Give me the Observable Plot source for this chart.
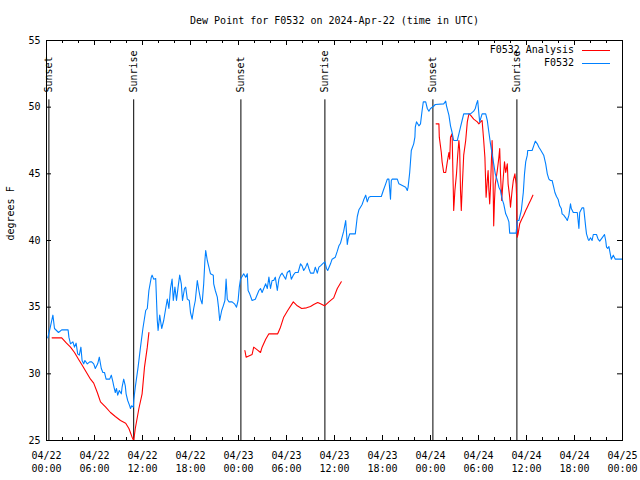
<!DOCTYPE html>
<html><head><meta charset="utf-8">
<script src="https://cdn.jsdelivr.net/npm/d3@7"></script>
<script src="https://cdn.jsdelivr.net/npm/@observablehq/plot@0.6"></script>
<style>
html,body{margin:0;padding:0;background:#fff;}
#wrap{position:relative;width:640px;height:480px;font-family:"DejaVu Sans Mono",monospace;font-size:10px;color:#000;}
#legend{position:absolute;left:0;top:0;width:640px;height:80px;pointer-events:none;}
.lgtext{position:absolute;right:66px;line-height:12px;white-space:pre;}
.lgline{position:absolute;left:582px;width:28px;height:0;border-top:1px solid;}
</style></head><body><div id="wrap"></div>
<script>
// ---- data (hours after 2024-04-22 00:00 UTC, dew point in °F) ----
const title = "Dew Point for F0532 on 2024-Apr-22 (time in UTC)";
const yLabel = "degrees F";
const seriesNames = ["F0532 Analysis", "F0532"];
const seriesColors = ["#ff0000", "#0080ff"];

const obsHours = [
 0.16,0.4,0.8,1.0,1.5,1.9,2.7,2.8,3.0,3.3,3.5,3.7,3.9,4.1,4.3,4.45,4.65,4.8,5.1,5.4,
 5.65,5.9,6.1,6.4,6.6,6.85,7.05,7.25,7.45,7.9,8.1,8.3,8.4,8.6,8.75,8.9,9.1,9.35,9.45,9.65,
 9.85,9.95,10.15,10.4,10.5,10.65,10.85,10.9,11.1,11.45,11.75,12.05,12.4,12.6,12.8,13.1,13.2,13.4,13.65,13.85,
 13.95,14.15,14.4,14.65,14.9,15.1,15.3,15.5,15.7,15.85,16.05,16.25,16.45,16.65,16.85,17.0,17.25,17.4,17.6,17.85,
 18.0,18.2,18.4,18.6,18.85,19.05,19.25,19.45,19.65,19.8,19.9,20.1,20.3,20.5,20.85,20.9,21.1,21.35,21.5,21.65,
 21.9,22.1,22.3,22.45,22.6,22.8,23.2,23.5,23.75,23.95,24.1,24.25,24.65,24.9,25.1,25.2,25.4,25.7,26.1,26.55,
 26.75,26.95,27.4,27.6,27.8,28.0,28.2,28.4,28.6,28.85,29.05,29.25,29.45,29.9,30.1,30.4,30.6,30.85,31.1,31.45,
 31.75,31.95,32.15,32.4,32.6,32.8,33.0,33.4,33.6,33.85,34.05,34.25,34.6,34.8,35.0,35.15,35.5,35.7,36.1,36.35,
 36.55,36.75,36.95,37.15,37.4,37.6,37.7,37.9,38.6,38.85,39.05,39.25,39.45,39.65,39.9,40.1,40.3,40.5,41.85,42.1,
 42.4,42.6,42.8,43.0,43.1,43.2,43.85,44.05,44.9,45.1,45.2,45.4,45.5,45.6,45.9,46.05,46.1,46.25,46.55,46.75,
 46.95,47.1,47.4,47.6,47.8,48.0,48.35,48.6,49.65,49.9,50.0,50.3,50.5,50.7,50.9,51.35,51.55,51.75,51.95,52.15,
 53.0,53.4,53.6,53.75,53.9,54.05,54.15,54.45,54.9,55.1,55.3,55.5,55.7,55.9,56.1,56.35,56.55,56.75,56.95,57.15,
 57.4,57.6,57.8,57.9,58.7,58.85,59.05,59.35,59.6,59.75,59.9,60.1,60.15,60.7,60.9,61.1,61.35,61.55,61.75,61.95,
 62.15,62.4,62.6,62.8,63.0,63.2,63.4,63.55,63.75,63.95,64.15,64.35,64.45,64.65,64.9,65.1,65.3,65.5,65.6,65.85,
 66.35,66.55,66.65,66.95,67.15,67.4,67.5,67.7,67.8,68.0,68.2,68.35,68.75,68.95,69.15,69.45,69.75,69.9,70.0,70.15,
 70.3,70.5,70.6,70.85,71.1,72.0
];
const obsValues = [
 32.7,33.3,34.4,33.4,33.1,33.3,33.3,32.75,32.25,32.4,32.0,32.3,31.5,31.4,32.0,31.0,30.75,31.0,30.75,30.9,
 30.9,30.75,30.4,30.75,31.25,30.4,30.1,30.1,29.6,29.6,29.9,29.4,29.1,28.6,28.9,28.4,28.75,28.5,29.0,29.6,
 29.1,28.5,28.0,27.6,27.4,27.6,27.5,28.0,29.0,30.5,32.0,33.4,34.75,34.9,36.25,37.25,37.4,37.1,37.15,34.0,
 33.25,34.4,33.4,34.0,34.9,35.6,34.9,36.4,37.1,35.5,36.5,35.5,36.5,37.4,36.75,35.5,36.4,36.5,35.6,35.5,
 34.6,34.1,34.9,35.5,37.0,36.25,35.6,35.25,36.75,38.5,39.25,38.5,38.0,37.5,37.4,36.75,36.25,35.75,35.0,34.0,
 34.75,35.1,35.5,37.1,35.6,35.4,35.4,35.25,35.0,35.5,36.5,37.1,37.5,37.25,37.5,36.25,36.0,35.5,35.6,36.25,
 36.4,36.1,36.75,36.4,37.25,36.4,37.0,37.0,37.25,36.25,37.1,37.4,37.55,37.1,37.6,37.75,37.1,37.4,37.6,37.6,
 38.25,38.1,37.75,38.0,38.3,37.9,37.55,37.55,38.0,37.55,38.0,38.1,38.3,38.4,37.9,37.75,38.25,38.6,38.75,39.2,
 39.6,39.8,40.25,40.7,41.5,39.7,40.1,40.5,40.5,41.8,42.3,42.5,42.7,43.05,43.4,42.9,43.25,43.3,43.3,43.75,
 44.25,44.6,44.6,43.1,44.5,44.6,44.6,44.25,44.0,43.75,44.0,45.1,45.9,46.75,47.25,47.75,48.5,48.9,48.6,48.75,
 49.75,50.4,50.4,49.9,49.7,49.9,50.05,50.2,50.25,50.45,50.1,49.4,48.6,48.1,47.5,47.5,48.0,48.5,49.0,49.5,
 49.5,49.7,49.9,50.25,50.5,49.5,48.9,49.5,49.5,49.0,48.1,47.25,46.5,45.75,45.0,44.5,44.0,43.75,43.1,42.75,
 42.0,41.75,41.4,40.55,40.55,41.5,41.5,42.25,43.6,45.0,45.9,46.4,46.75,46.75,47.1,47.45,47.25,47.0,46.8,46.6,
 46.4,45.75,45.0,44.6,44.5,44.5,44.0,43.6,43.3,43.1,42.6,42.4,42.0,41.9,41.7,41.5,41.9,42.75,42.4,42.1,
 42.1,40.9,42.1,42.45,42.45,41.0,40.5,40.1,40.0,40.2,40.0,40.45,40.45,40.1,39.95,40.2,40.45,40.0,39.5,39.4,
 39.55,38.9,38.6,38.9,38.6,38.6
];

// analysis series, null = gap between runs
const anaHours = [
 0.7,1.9,2.5,3.0,3.5,4.0,4.5,5.0,5.5,5.9,6.35,6.75,7.4,8.0,8.6,9.25,9.9,10.3,10.7,10.9,11.1,11.55,11.95,12.25,12.6,12.8,
 null,
 24.8,24.95,25.7,25.9,26.35,26.75,26.95,27.4,27.8,28.9,29.25,29.65,30.15,30.85,31.35,31.9,32.5,33.0,33.4,33.9,34.25,34.75,35.3,35.9,36.35,36.85,
 null,
 48.7,49.05,49.1,49.35,49.45,49.65,49.9,50.1,50.3,50.4,50.5,50.7,50.85,50.9,51.05,51.25,51.4,51.55,51.65,51.75,51.85,51.95,52.15,52.4,52.6,52.8,
 53.0,53.4,53.85,54.05,54.25,54.45,54.65,54.8,54.95,55.1,55.2,55.3,55.4,55.5,55.7,55.8,55.9,56.0,56.1,56.35,56.55,56.65,56.75,56.9,
 57.1,57.25,57.4,57.6,57.7,57.9,58.0,58.2,58.35,58.55,58.7,58.75,58.85,58.95,59.15,59.4,59.65,59.9,60.1,60.3,60.5,60.8
];
const anaValues = [
 32.7,32.7,32.3,32.0,31.6,31.1,30.6,30.1,29.6,29.3,28.6,27.9,27.5,27.1,26.8,26.5,26.3,25.9,25.25,25.0,25.9,27.4,28.5,30.5,32.0,33.1,
 null,
 31.75,31.25,31.45,32.0,31.8,31.6,32.0,32.6,33.0,33.0,33.5,34.25,34.75,35.4,35.1,34.9,34.95,35.05,35.2,35.35,35.25,35.1,35.4,35.7,36.4,36.9,
 null,
 48.75,48.75,47.75,46.6,45.9,45.1,45.1,45.9,46.6,46.1,47.75,48.0,43.75,42.25,43.75,45.0,46.4,47.5,46.75,43.75,42.25,43.75,46.4,47.5,48.9,49.5,
 49.4,49.1,48.9,48.75,48.9,49.0,47.5,46.25,43.25,44.5,45.25,43.75,42.75,44.0,47.5,45.5,41.1,43.0,44.25,45.25,46.25,46.9,45.0,43.0,
 44.75,45.9,45.1,45.75,44.25,43.25,42.5,43.75,44.5,45.0,44.25,43.5,40.25,40.5,41.25,41.6,41.9,42.25,42.5,42.75,43.0,43.4
];

const sunsetHours = [0.3, 24.3, 48.3];
const sunriseHours = [10.9, 34.8, 58.8];
const yTickValues = [25, 30, 35, 40, 45, 50, 55];

// ---- build ----
const t0 = Date.UTC(2024, 3, 22);
const toDate = h => h == null ? null : new Date(t0 + h * 3600e3);
const obs = obsHours.map((h, i) => ({t: toDate(h), v: obsValues[i]}));
const ana = anaHours.map((h, i) => ({t: toDate(h), v: anaValues[i]}));
const sunsets = sunsetHours.map(toDate);
const sunrises = sunriseHours.map(toDate);
const majorTicks = d3.range(0, 73, 6).map(toDate);
const minorTicks = d3.range(0, 73, 2).filter(h => h % 6 !== 0).map(toDate);
const fmtDay = d3.utcFormat("%m/%d"), fmtTime = d3.utcFormat("%H:%M");

const RULE_TOP = 50.55, LABEL_Y = 51.1;

const chart = Plot.plot({
  width: 640, height: 480,
  marginLeft: 46, marginRight: 18, marginTop: 40, marginBottom: 40,
  style: {fontFamily: "'DejaVu Sans Mono', monospace", fontSize: "10px", background: "white", color: "black", overflow: "visible"},
  x: {type: "utc", domain: [toDate(0), toDate(72)]},
  y: {domain: [25, 55]},
  marks: [
    Plot.ruleX(sunsets, {x: d => d, y1: 25, y2: RULE_TOP, stroke: "black"}),
    Plot.ruleX(sunrises, {x: d => d, y1: 25, y2: RULE_TOP, stroke: "black"}),
    Plot.text(sunsets, {x: d => d, y: LABEL_Y, text: () => "Sunset", rotate: -90, textAnchor: "start", lineAnchor: "middle"}),
    Plot.text(sunrises, {x: d => d, y: LABEL_Y, text: () => "Sunrise", rotate: -90, textAnchor: "start", lineAnchor: "middle"}),
    Plot.line(ana, {x: "t", y: "v", stroke: seriesColors[0], strokeWidth: 1.1}),
    Plot.line(obs, {x: "t", y: "v", stroke: seriesColors[1], strokeWidth: 1.1}),
    Plot.frame({stroke: "black"}),
    Plot.tickX(majorTicks, {x: d => d, insetTop: 395, stroke: "black"}),
    Plot.tickX(majorTicks, {x: d => d, insetBottom: 395, stroke: "black"}),
    Plot.tickX(minorTicks, {x: d => d, insetTop: 397, stroke: "black"}),
    Plot.tickX(minorTicks, {x: d => d, insetBottom: 397, stroke: "black"}),
    Plot.tickY(yTickValues, {y: d => d, insetRight: 571, stroke: "black"}),
    Plot.tickY(yTickValues, {y: d => d, insetLeft: 571, stroke: "black"}),
    Plot.axisX(majorTicks, {anchor: "bottom", tickSize: 0, tickPadding: 9, lineHeight: 1.33, label: null,
      tickFormat: d => fmtDay(d) + "\n" + fmtTime(d)}),
    Plot.axisY(yTickValues, {anchor: "left", tickSize: 0, tickPadding: 6, label: null}),
    Plot.text([title], {frameAnchor: "top", dy: -20, lineAnchor: "middle"}),
    Plot.text([yLabel], {frameAnchor: "left", dx: -36, rotate: -90, lineAnchor: "middle"})
  ]
});
const wrap = document.getElementById("wrap");
wrap.appendChild(chart);

// legend overlay (top-right, inside plot frame)
const legend = document.createElement("div");
legend.id = "legend";
seriesNames.forEach((name, i) => {
  const t = document.createElement("div");
  t.className = "lgtext"; t.textContent = name;
  t.style.top = (44 + i * 12.7) + "px";
  const l = document.createElement("div");
  l.className = "lgline"; l.style.borderTopColor = seriesColors[i];
  l.style.top = (50 + i * 12.7) + "px";
  legend.appendChild(t); legend.appendChild(l);
});
wrap.appendChild(legend);
</script></body></html>
